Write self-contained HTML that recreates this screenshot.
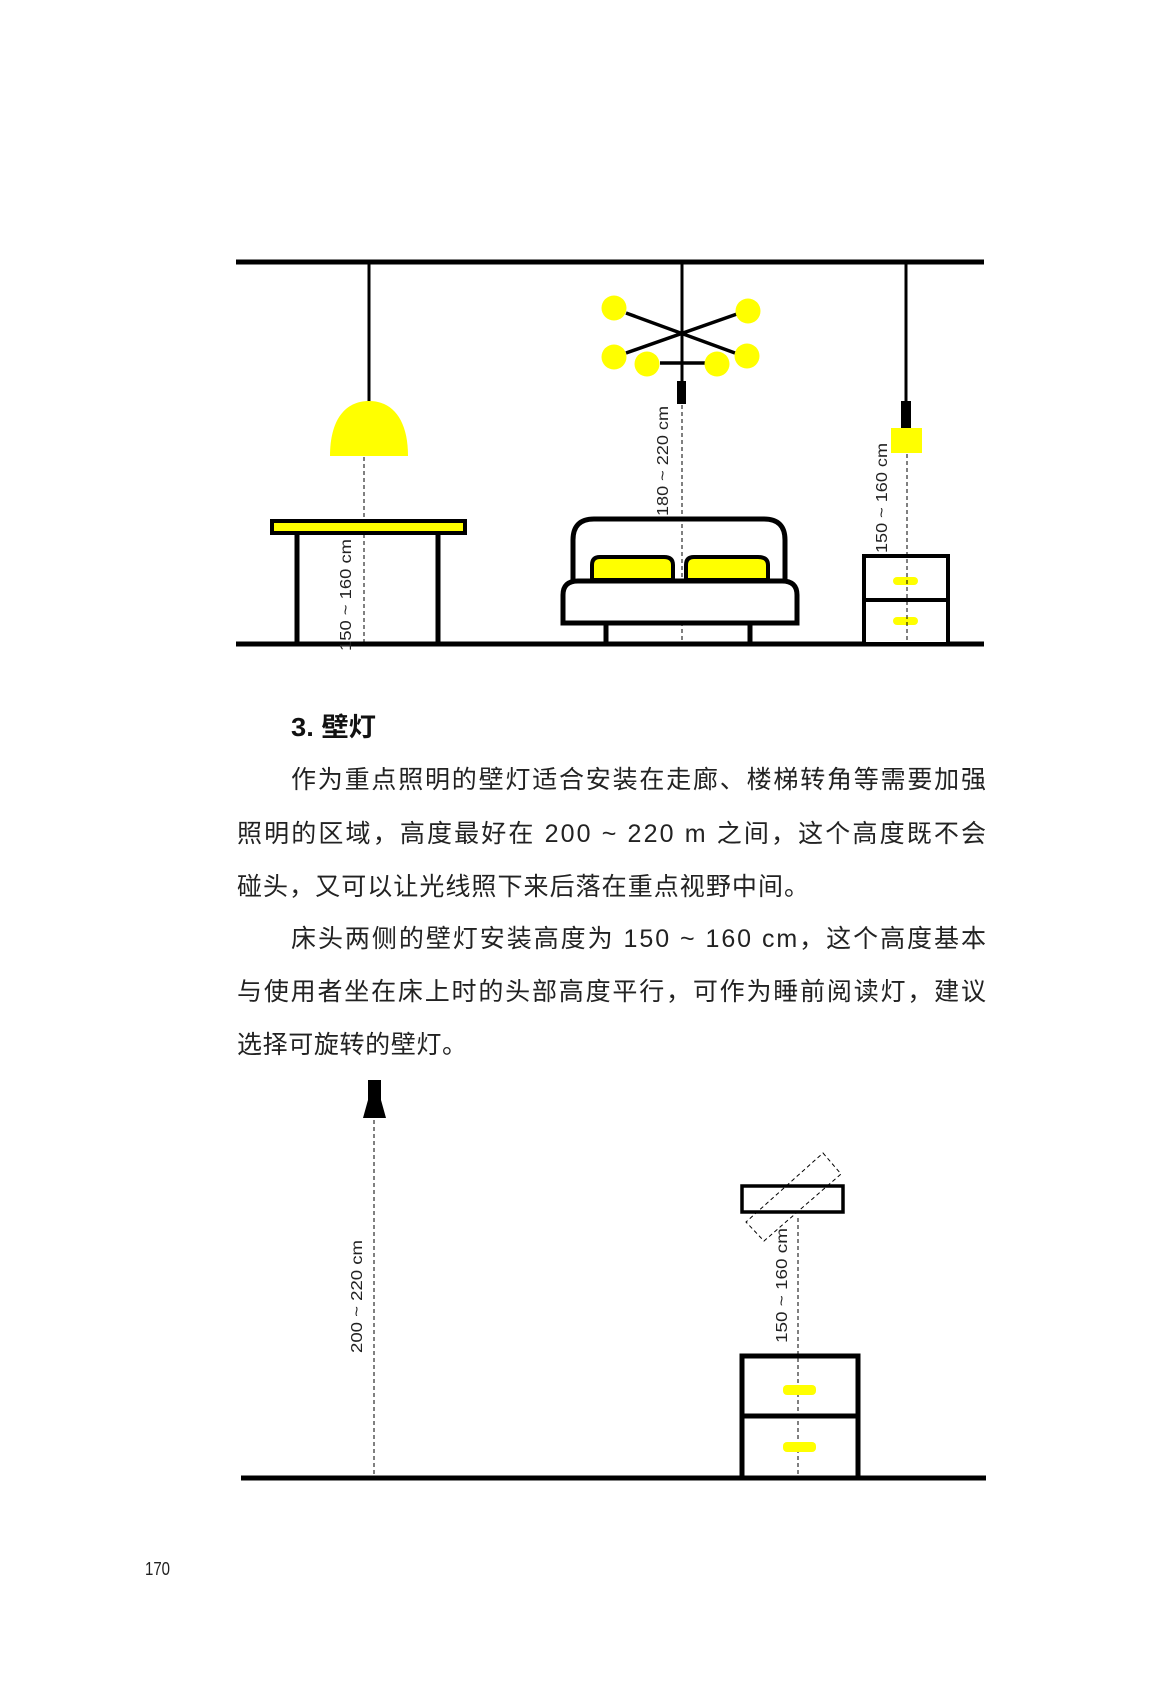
<!DOCTYPE html>
<html><head><meta charset="utf-8"><style>
html,body{margin:0;padding:0;background:#fff;}
svg{display:block;}
</style></head><body>
<svg width="1150" height="1701" viewBox="0 0 1150 1701" xmlns="http://www.w3.org/2000/svg">
<g stroke="#000" fill="none">
<line x1="236" y1="262" x2="984" y2="262" stroke-width="5"/>
<line x1="236" y1="644" x2="984" y2="644" stroke-width="5"/>
<line x1="369" y1="262" x2="369" y2="402" stroke-width="3"/>
<path d="M330,456 C330,420 345,401 369,401 C393,401 408,420 408,456 Z" fill="#ffff00" stroke="none"/>
<line x1="364" y1="457" x2="364" y2="644" stroke-width="1" stroke-dasharray="4,3"/>
<rect x="272" y="521" width="193" height="12" fill="#ffff00" stroke-width="4"/>
<line x1="297" y1="535" x2="297" y2="644" stroke-width="5"/>
<line x1="438" y1="535" x2="438" y2="644" stroke-width="5"/>
<line x1="682" y1="262" x2="682" y2="382" stroke-width="3"/>
<line x1="626" y1="313" x2="735" y2="353" stroke-width="3.5"/>
<line x1="626" y1="353" x2="737" y2="314" stroke-width="3.5"/>
<line x1="660" y1="363" x2="705" y2="363" stroke-width="3.5"/>
<g fill="#ffff00" stroke="none">
<circle cx="614" cy="308" r="12.5"/><circle cx="748" cy="311" r="12.5"/>
<circle cx="614" cy="357" r="12.5"/><circle cx="647" cy="364" r="12.5"/>
<circle cx="717" cy="364" r="12.5"/><circle cx="747" cy="356" r="12.5"/>
</g>
<rect x="677" y="381" width="9" height="23" fill="#000" stroke="none"/>
<line x1="682" y1="405" x2="682" y2="644" stroke-width="1" stroke-dasharray="4,3"/>
<path d="M573,580 L573,540 Q573,519 594,519 L764,519 Q785,519 785,540 L785,580" stroke-width="5"/>
<path d="M563,623 L563,595 Q563,581 578,581 L782,581 Q797,581 797,595 L797,623 Z" stroke-width="5" fill="#fff"/>
<path d="M592,580 L592,565 Q592,557 600,557 L664,557 Q673,557 673,565 L673,580 Z" fill="#ffff00" stroke-width="4"/>
<path d="M686,580 L686,565 Q686,557 694,557 L758,557 Q768,557 768,565 L768,580 Z" fill="#ffff00" stroke-width="4"/>
<line x1="606" y1="625" x2="606" y2="644" stroke-width="5"/>
<line x1="750" y1="625" x2="750" y2="644" stroke-width="5"/>
<line x1="906" y1="262" x2="906" y2="402" stroke-width="3"/>
<rect x="901" y="401" width="10" height="27" fill="#000" stroke="none"/>
<rect x="891" y="428" width="31" height="25" fill="#ffff00" stroke="none"/>
<rect x="864" y="556" width="84" height="88" stroke-width="4" fill="#fff"/>
<line x1="864" y1="600" x2="948" y2="600" stroke-width="4"/>
<rect x="893" y="577" width="25" height="8" rx="4" fill="#ffff00" stroke="none"/>
<rect x="893" y="617" width="25" height="8" rx="4" fill="#ffff00" stroke="none"/>
<line x1="907" y1="454" x2="907" y2="644" stroke-width="1" stroke-dasharray="4,3"/>

<line x1="241" y1="1478" x2="986" y2="1478" stroke-width="5"/>
<path d="M368,1080 L381,1080 L381,1100 L386,1118 L363,1118 L368,1100 Z" fill="#000" stroke="none"/>
<line x1="374" y1="1120" x2="374" y2="1478" stroke-width="1" stroke-dasharray="4,3"/>
<rect x="742" y="1186" width="101" height="26" stroke-width="3.5" fill="none"/>
<polygon points="823,1153 841,1174 764,1241 746,1222" stroke-width="1" stroke-dasharray="4,3"/>
<line x1="798" y1="1218" x2="798" y2="1478" stroke-width="1" stroke-dasharray="4,3"/>
<rect x="742" y="1356" width="116" height="122" stroke-width="5"/>
<line x1="742" y1="1416" x2="858" y2="1416" stroke-width="5"/>
<rect x="783" y="1385" width="33" height="10" rx="4" fill="#ffff00" stroke="none"/>
<rect x="783" y="1442" width="33" height="10" rx="4" fill="#ffff00" stroke="none"/>
</g>
<g font-family="Liberation Sans, sans-serif" font-size="16" fill="#222">
<text transform="translate(351,651) rotate(-90)" textLength="112" lengthAdjust="spacingAndGlyphs">150 ~ 160 cm</text>
<text transform="translate(668,516) rotate(-90)" textLength="110" lengthAdjust="spacingAndGlyphs">180 ~ 220 cm</text>
<text transform="translate(887,553) rotate(-90)" textLength="110" lengthAdjust="spacingAndGlyphs">150 ~ 160 cm</text>
<text transform="translate(362,1353) rotate(-90)" textLength="113" lengthAdjust="spacingAndGlyphs">200 ~ 220 cm</text>
<text transform="translate(787,1343) rotate(-90)" textLength="115" lengthAdjust="spacingAndGlyphs">150 ~ 160 cm</text>
</g>
<g font-family="Liberation Sans, Noto Sans CJK SC, sans-serif" fill="#222">
<text x="291" y="736" font-size="26" font-weight="bold" fill="#111" textLength="85" lengthAdjust="spacingAndGlyphs">3. 壁灯</text>
<g font-size="25">
<text x="291" y="788" textLength="695" lengthAdjust="spacing">作为重点照明的壁灯适合安装在走廊、楼梯转角等需要加强</text>
<text x="237" y="842" textLength="749" lengthAdjust="spacing">照明的区域，高度最好在 200 ~ 220 m 之间，这个高度既不会</text>
<text x="237" y="895" textLength="572" lengthAdjust="spacing">碰头，又可以让光线照下来后落在重点视野中间。</text>
<text x="291" y="947" textLength="695" lengthAdjust="spacing">床头两侧的壁灯安装高度为 150 ~ 160 cm，这个高度基本</text>
<text x="237" y="1000" textLength="749" lengthAdjust="spacing">与使用者坐在床上时的头部高度平行，可作为睡前阅读灯，建议</text>
<text x="237" y="1053" textLength="230" lengthAdjust="spacing">选择可旋转的壁灯。</text>
</g>
<text x="145" y="1575" font-size="18" font-family="Liberation Sans, sans-serif" textLength="25" lengthAdjust="spacingAndGlyphs">170</text>
</g>
</svg>
</body></html>
